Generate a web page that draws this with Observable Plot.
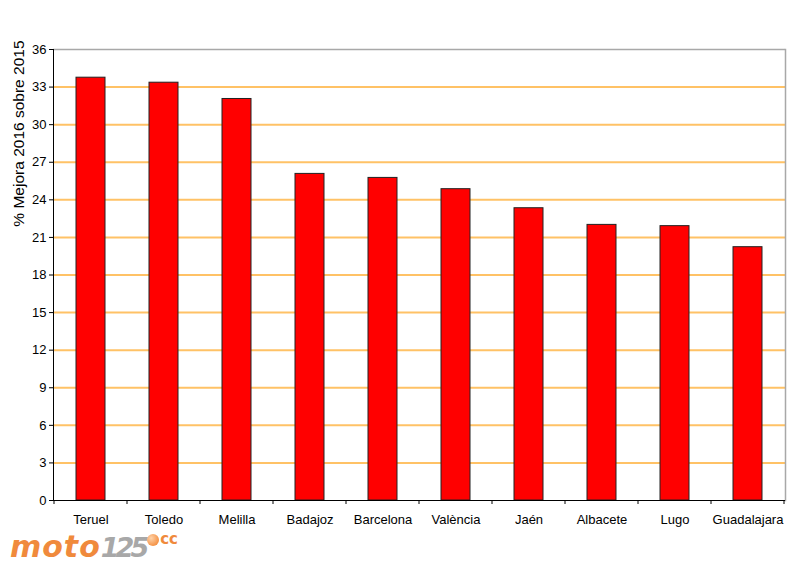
<!DOCTYPE html>
<html><head><meta charset="utf-8">
<script src="https://cdn.jsdelivr.net/npm/d3@7"></script>
<script src="https://cdn.jsdelivr.net/npm/@observablehq/plot@0.6"></script>
<style>
body{margin:0;background:#fff;}
#wrap{position:relative;width:800px;height:570px;font-family:"Liberation Sans",Arial,sans-serif;}
#logo{position:absolute;left:10px;top:532px;font-family:"DejaVu Sans",sans-serif;font-weight:bold;font-style:italic;font-size:30px;line-height:30px;white-space:nowrap;}
#logo .m{color:#F08A3C;letter-spacing:1px;}
#logo .n{color:#A8A8A8;letter-spacing:-4px;font-size:27px;}
#logo .ball{display:inline-block;width:12px;height:12px;border-radius:6px;background:radial-gradient(circle at 35% 35%,#ffd2a8,#F07A20);vertical-align:top;margin-top:2px;margin-left:2px;}
#logo .cc{color:#F08A3C;font-size:15px;vertical-align:top;line-height:14px;font-style:normal;margin-left:1px;}
</style>
</head><body>
<div id="wrap"></div>
<script>
const categories = ["Teruel","Toledo","Melilla","Badajoz","Barcelona","València","Jaén","Albacete","Lugo","Guadalajara"];
const values = [33.75, 33.35, 32.05, 26.07, 25.75, 24.85, 23.33, 22.0, 21.9, 20.22];
const yTicks = [0,3,6,9,12,15,18,21,24,27,30,33,36];
const yLabel = "% Mejora 2016 sobre 2015";

const data = categories.map((c,i)=>({c, v: values[i]}));

const plot = Plot.plot({
  width: 800, height: 570,
  marginLeft: 53, marginRight: 15, marginTop: 49, marginBottom: 70,
  style: {fontFamily: "Liberation Sans, Arial, sans-serif", fontSize: "13px", color: "#000", background: "#fff"},
  x: {domain: categories, paddingInner: 0.6, paddingOuter: 0.3, label: null},
  y: {domain: [0,36], ticks: yTicks, label: null},
  marks: [
    Plot.ruleY(yTicks.filter(t => t > 0 && t < 36), {stroke: "#FFC266", strokeWidth: 2}),
    Plot.ruleY([36], {stroke: "#A8A8A8", strokeWidth: 1.5}),
    Plot.frame({anchor: "right", stroke: "#A8A8A8", strokeWidth: 1.5}),
    Plot.barY(data, {x: "c", y: "v", fill: "#FF0000", stroke: "#222", strokeWidth: 1}),
    Plot.axisY({ticks: yTicks, tickSize: 4, tickPadding: 3, fontSize: 13, label: null}),
    Plot.axisX({tickSize: 0, tickPadding: 14, fontSize: 13, label: null}),
    Plot.ruleY([0], {stroke: "#000", strokeWidth: 1}),
    Plot.frame({anchor: "left", stroke: "#000", strokeWidth: 1}),
    Plot.text([yLabel], {frameAnchor: "top-left", text: d => d, rotate: -90, textAnchor: "end", dx: -41, dy: -9, fontSize: 15.5, fill: "#000"})
  ]
});

// x-axis tick marks at band boundaries, from the library's x scale
const xs = plot.scale("x");
const step = xs.step;
const bw = xs.bandwidth;
const y0 = plot.scale("y").apply(0);
const bounds = [];
categories.forEach((c,i)=>{
  const start = xs.apply(c);
  if (i === 0) bounds.push(start - (step - bw)/2);
  bounds.push(start + bw + (step - bw)/2);
});
d3.select(plot).append("g").attr("stroke","#000").attr("stroke-width",1)
  .selectAll("line").data(bounds).join("line")
  .attr("x1", d=>d).attr("x2", d=>d).attr("y1", y0).attr("y2", y0+4);

const wrap = document.getElementById("wrap");
wrap.appendChild(plot);
const logo = document.createElement("div");
logo.id = "logo";
logo.innerHTML = '<span class="m">moto</span><span class="n">125</span><span class="ball"></span><span class="cc">cc</span>';
wrap.appendChild(logo);
plot.style.position = "absolute"; plot.style.left = "0"; plot.style.top = "0";
</script>
</body></html>
